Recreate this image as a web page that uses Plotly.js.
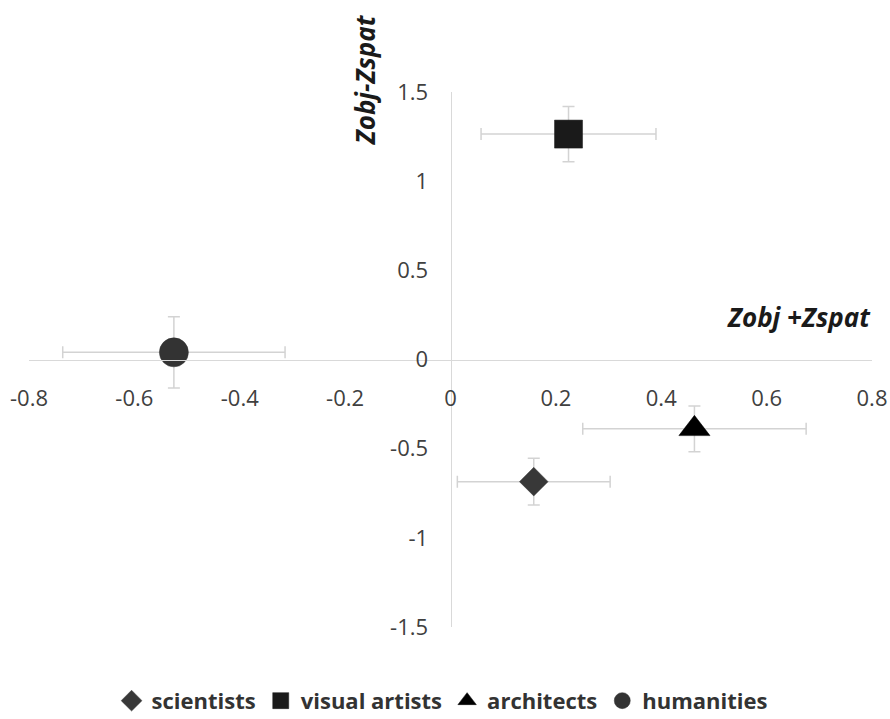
<!DOCTYPE html>
<html>
<head>
<meta charset="utf-8">
<script src="https://cdn.plot.ly/plotly-3.0.1.min.js"></script>
<style>html,body{margin:0;padding:0;background:#fff;}#chart{width:890px;height:719px;}</style>
</head>
<body>
<div id="chart"></div>
<script>
var groups = ['scientists', 'visual artists', 'architects', 'humanities'];
var xVals = [0.158, 0.224, 0.463, -0.525];
var yVals = [-0.685, 1.264, -0.389, 0.04];
var xErr = [0.145, 0.166, 0.212, 0.211];
var yErr = [0.131, 0.155, 0.128, 0.2];
var symbols = ['diamond', 'square', 'triangle-up', 'circle'];
var sizes = [22, 28, 27, 29];
var colors = ['#383838', '#1a1a1a', '#000000', '#333333'];

var xTickVals = [-0.8, -0.6, -0.4, -0.2, 0, 0.2, 0.4, 0.6, 0.8];
var xTickText = ['-0.8', '-0.6', '-0.4', '-0.2', '0', '0.2', '0.4', '0.6', '0.8'];
var yTickVals = [-1.5, -1, -0.5, 0, 0.5, 1, 1.5];
var yTickText = ['-1.5', '-1', '-0.5', '0', '0.5', '1', '1.5'];

var errColor = '#d3d3d3';
var traces = groups.map(function (g, i) {
  return {
    type: 'scatter',
    mode: 'markers',
    name: g,
    x: [xVals[i]],
    y: [yVals[i]],
    marker: {symbol: symbols[i], size: sizes[i], color: colors[i], line: {width: 0.5, color: colors[i]}},
    error_x: {type: 'data', array: [xErr[i]], visible: true, color: errColor, thickness: 1.5, width: 6},
    error_y: {type: 'data', array: [yErr[i]], visible: true, color: errColor, thickness: 1.5, width: 6},
    hoverinfo: 'skip'
  };
});

var tickFont = {family: 'Open Sans, sans-serif', size: 22, color: '#404040'};
var layout = {
  width: 890,
  height: 719,
  margin: {l: 29, r: 18, t: 92, b: 92, pad: 0, autoexpand: false},
  paper_bgcolor: '#ffffff',
  plot_bgcolor: '#ffffff',
  showlegend: true,
  legend: {
    orientation: 'h',
    x: 0.49, xanchor: 'center',
    y: -0.138, yanchor: 'middle',
    font: {family: 'Open Sans, sans-serif', size: 22, color: '#333333', weight: 'bold'},
    itemclick: false
  },
  xaxis: {
    range: [-0.8, 0.8],
    anchor: 'free', position: 0.5,
    showline: true, linecolor: '#d9d9d9', linewidth: 1.5,
    showgrid: false, zeroline: false,
    ticks: '',
    tickmode: 'array', tickvals: xTickVals, ticktext: xTickText,
    tickfont: tickFont,
    ticklabelstandoff: 19,
    fixedrange: true
  },
  yaxis: {
    range: [-1.5, 1.5],
    anchor: 'free', position: 0.5,
    showline: true, linecolor: '#d9d9d9', linewidth: 1.5,
    showgrid: false, zeroline: false,
    ticks: '',
    tickmode: 'array', tickvals: yTickVals, ticktext: yTickText,
    tickfont: tickFont,
    ticklabelstandoff: 18,
    fixedrange: true
  },
  annotations: [
    {
      text: '<b><i>Zobj-Zspat</i></b>',
      xref: 'paper', yref: 'paper',
      x: 0.3986, y: 1.022,
      xanchor: 'center', yanchor: 'middle',
      textangle: -90, showarrow: false,
      font: {family: 'Open Sans, sans-serif', size: 26, color: '#1a1a1a'}
    },
    {
      text: '<b><i>Zobj +Zspat</i></b>',
      xref: 'paper', yref: 'paper',
      x: 1.001, y: 0.5794,
      xanchor: 'right', yanchor: 'middle',
      showarrow: false,
      font: {family: 'Open Sans, sans-serif', size: 26, color: '#1a1a1a'}
    }
  ]
};

Plotly.newPlot('chart', traces, layout, {displayModeBar: false, staticPlot: true});
</script>
</body>
</html>
